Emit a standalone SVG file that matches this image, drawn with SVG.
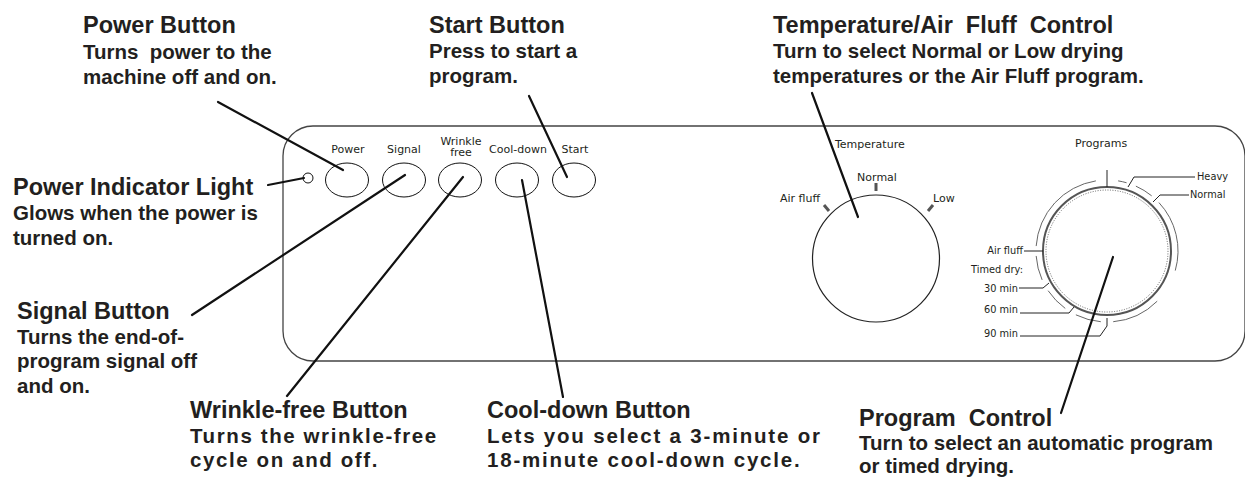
<svg xmlns="http://www.w3.org/2000/svg" width="1245" height="481" viewBox="0 0 1245 481">
<style>
  .t { font-family: "Liberation Sans", Arial, sans-serif; font-weight: bold; font-size: 23.5px; fill: #231f20; white-space: pre; }
  .d { font-family: "Liberation Sans", Arial, sans-serif; font-weight: bold; font-size: 20.5px; fill: #231f20; white-space: pre; }
  .ds { letter-spacing: 1.6px; }
  .dc { letter-spacing: 1.8px; }
  .s { font-family: "DejaVu Sans", Verdana, sans-serif; font-size: 11px; fill: #231f20; }
  .xs { font-family: "DejaVu Sans", Verdana, sans-serif; font-size: 9.8px; fill: #231f20; }
  .lead { stroke: #111; stroke-width: 2.2; fill: none; stroke-linecap: round; }
  .thin { stroke: #222; stroke-width: 1; fill: none; }
  .btn { fill: #fff; stroke: #111; stroke-width: 1; }
  .tick { stroke: #555; stroke-width: 3; }
</style>
<rect width="1245" height="481" fill="#fff"/>

<g id="panel">
  <rect x="283" y="126" width="962" height="235" rx="30" ry="30" fill="none" stroke="#444" stroke-width="1.3"/>
</g>

<g id="indicator-light">
  <circle cx="308" cy="178" r="5" fill="#fff" stroke="#111" stroke-width="1"/>
</g>

<g id="button-power">
  <ellipse class="btn" cx="347" cy="180" rx="21.5" ry="17"/>
  <text class="s" x="348" y="153" text-anchor="middle">Power</text>
</g>
<g id="button-signal">
  <ellipse class="btn" cx="404" cy="180" rx="21.5" ry="17"/>
  <text class="s" x="404" y="153" text-anchor="middle">Signal</text>
</g>
<g id="button-wrinkle">
  <ellipse class="btn" cx="460" cy="180" rx="21.5" ry="17"/>
  <text class="s" x="461" y="145" text-anchor="middle">Wrinkle</text>
  <text class="s" x="461" y="156" text-anchor="middle">free</text>
</g>
<g id="button-cooldown">
  <ellipse class="btn" cx="517" cy="180" rx="21.5" ry="17"/>
  <text class="s" x="518" y="153" text-anchor="middle">Cool-down</text>
</g>
<g id="button-start">
  <ellipse class="btn" cx="574" cy="180" rx="21.5" ry="17"/>
  <text class="s" x="575" y="153" text-anchor="middle">Start</text>
</g>

<g id="temperature-dial">
  <text class="s" x="835" y="148" font-size="12">Temperature</text>
  <circle cx="876" cy="258.5" r="63.5" fill="none" stroke="#222" stroke-width="1.2"/>
  <line class="tick" x1="876" y1="183" x2="876" y2="191"/>
  <line class="tick" x1="824" y1="205" x2="829" y2="211"/>
  <line class="tick" x1="928" y1="211" x2="933" y2="205"/>
  <text class="s" x="877" y="181" text-anchor="middle" font-size="10.8">Normal</text>
  <text class="s" x="820" y="202" text-anchor="end" font-size="10.3">Air fluff</text>
  <text class="s" x="933" y="202" font-size="10.8">Low</text>
</g>

<g id="program-dial">
  <text class="s" x="1075" y="147" font-size="12.5">Programs</text>
  <g stroke="#555" stroke-width="0.9" fill="none">
    <path d="M1100.81,321.73 A71,71 0 0 1 1075.87,314.82"/>
    <path d="M1065.27,308.44 A71,71 0 0 1 1048.14,290.70"/>
    <path d="M1042.14,279.88 A71,71 0 0 1 1036.17,255.95"/>
    <path d="M1036.17,246.05 A71,71 0 0 1 1095.89,180.87"/>
    <path d="M1118.11,180.87 A71,71 0 0 1 1126.57,182.75"/>
    <path d="M1135.88,186.14 A71,71 0 0 1 1151.68,195.83"/>
    <path d="M1158.93,202.58 A71,71 0 0 1 1175.25,270.57"/>
    <path d="M1157.20,301.20 A71,71 0 0 1 1113.19,321.73"/>
  </g>
  <circle cx="1107" cy="251" r="64" fill="none" stroke="#555" stroke-width="2"/>
  <circle cx="1107" cy="251" r="61" fill="none" stroke="#666" stroke-width="1" stroke-dasharray="1 1.5"/>
  <line class="thin" x1="1107" y1="170" x2="1107" y2="187"/>
  <polyline class="thin" points="1128,187 1134,177 1195,177"/>
  <polyline class="thin" points="1153,202 1160,195 1189,195"/>
  <polyline class="thin" points="1024,251 1043,251"/>
  <polyline class="thin" points="1019,288 1043,288 1049,283"/>
  <polyline class="thin" points="1020,313 1069,313 1074,307"/>
  <polyline class="thin" points="1020,336 1100,336 1107,326 1107,318"/>
  <text class="xs" x="1197" y="180">Heavy</text>
  <text class="xs" x="1190" y="198">Normal</text>
  <text class="xs" x="1023" y="254" text-anchor="end" font-size="10.3">Air fluff</text>
  <text class="xs" x="1023" y="273" text-anchor="end" font-size="10.3">Timed dry:</text>
  <text class="xs" x="1018" y="292" text-anchor="end" font-size="10.5">30 min</text>
  <text class="xs" x="1018" y="313" text-anchor="end" font-size="10.5">60 min</text>
  <text class="xs" x="1018" y="337" text-anchor="end" font-size="10.5">90 min</text>
</g>

<g id="connectors">
  <line class="lead" x1="218" y1="102" x2="343" y2="170"/>
  <line class="lead" x1="268" y1="185" x2="304" y2="178"/>
  <line class="lead" x1="192" y1="315" x2="405" y2="175"/>
  <line class="lead" x1="287" y1="396" x2="463" y2="177"/>
  <line class="lead" x1="563" y1="397" x2="522" y2="180"/>
  <line class="lead" x1="529" y1="96" x2="567" y2="177"/>
  <line class="lead" x1="812" y1="93" x2="858" y2="217"/>
  <line class="lead" x1="1113" y1="257" x2="1061" y2="413"/>
</g>

<g id="label-power-button">
  <text class="t" x="83" y="33">Power Button</text>
  <text class="d" x="83" y="59">Turns  power to the</text>
  <text class="d" x="83" y="84">machine off and on.</text>
</g>
<g id="label-start-button">
  <text class="t" x="429" y="33">Start Button</text>
  <text class="d" x="429" y="58">Press to start a</text>
  <text class="d" x="429" y="83">program.</text>
</g>
<g id="label-temperature">
  <text class="t" x="773" y="33">Temperature/Air  Fluff  Control</text>
  <text class="d" x="773" y="58">Turn to select Normal or Low drying</text>
  <text class="d" x="773" y="83">temperatures or the Air Fluff program.</text>
</g>
<g id="label-indicator">
  <text class="t" x="13" y="195">Power Indicator Light</text>
  <text class="d" x="13" y="220">Glows when the power is</text>
  <text class="d" x="13" y="245">turned on.</text>
</g>
<g id="label-signal">
  <text class="t" x="17" y="319">Signal Button</text>
  <text class="d" x="17" y="344">Turns the end-of-</text>
  <text class="d" x="17" y="368">program signal off</text>
  <text class="d" x="17" y="393">and on.</text>
</g>
<g id="label-wrinkle">
  <text class="t" x="190" y="418">Wrinkle-free Button</text>
  <text class="d ds" x="190" y="443">Turns the wrinkle-free</text>
  <text class="d ds" x="190" y="467">cycle on and off.</text>
</g>
<g id="label-cooldown">
  <text class="t" x="487" y="418">Cool-down Button</text>
  <text class="d dc" x="487" y="443">Lets you select a 3-minute or</text>
  <text class="d dc" x="487" y="467">18-minute cool-down cycle.</text>
</g>
<g id="label-program">
  <text class="t" x="859" y="426">Program  Control</text>
  <text class="d" x="859" y="450">Turn to select an automatic program</text>
  <text class="d" x="859" y="473">or timed drying.</text>
</g>
</svg>
